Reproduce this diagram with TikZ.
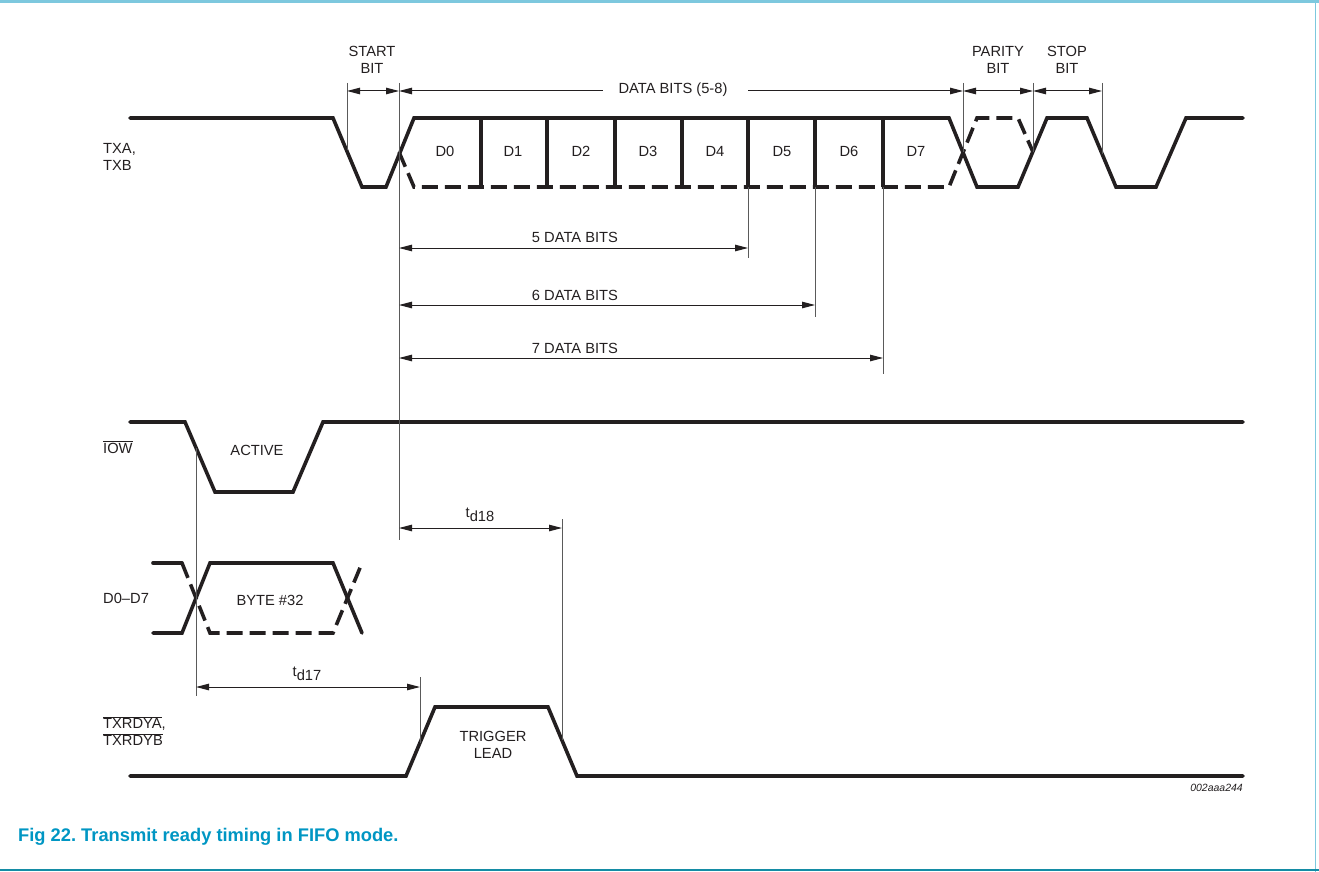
\documentclass[tikz,border=0pt]{standalone}
\usepackage{fontspec}
\setmainfont{Liberation Sans}
\usetikzlibrary{arrows.meta}
\definecolor{ink}{RGB}{35,31,32}
\definecolor{extgray}{RGB}{90,90,90}
\definecolor{capblue}{RGB}{0,150,195}
\definecolor{topblue}{RGB}{125,200,222}
\definecolor{botteal}{RGB}{20,140,165}
\begin{document}
\frenchspacing
\begin{tikzpicture}[x=1pt,y=-1pt,
  sig/.style={line width=3.6pt, draw=ink, line join=miter, line cap=round},
  sigd/.style={sig, line cap=butt, dash pattern=on 16pt off 7pt},
  ext/.style={line width=1pt, draw=extgray},
  dimarr/.style={line width=1pt, draw=ink, {Triangle[length=13pt,width=6.5pt]}-{Triangle[length=13pt,width=6.5pt]}},
  dimleft/.style={line width=1pt, draw=ink, {Triangle[length=13pt,width=6.5pt]}-},
  dimright/.style={line width=1pt, draw=ink, -{Triangle[length=13pt,width=6.5pt]}},
  lbl/.style={font=\fontsize{14.7}{17.5}\selectfont, text=ink, inner sep=0pt, align=center},
  sigl/.style={lbl, align=left, anchor=west},
]
\useasboundingbox (0,0) rectangle (1319,872);
% frame
\fill[topblue] (0,0) rectangle (1319,3);
\draw[topblue, line width=1pt] (1315.5,0) -- (1315.5,872);
\fill[botteal] (0,869) rectangle (1319,871);

% ---------- signal labels
\node[sigl] (lTX) at (103,157) {TXA,\\TXB};
\node[sigl] (lIOW) at (103,447) {$\overline{\hbox{IOW}}$};
\node[sigl] (lD) at (103,598) {D0--D7};
\node[sigl] (lRDY) at (103,731) {$\overline{\hbox{TXRDYA}}$,\\$\overline{\hbox{TXRDYB}}$};

% ---------- TXA / TXB waveform
\draw[sig] (130,118) -- (333,118) -- (362,187) -- (386,187) -- (414,118) -- (949,118)
  -- (977,187) -- (1018,187) -- (1047,118) -- (1087,118) -- (1116,187) -- (1156,187)
  -- (1186,118) -- (1243,118);
\draw[sigd] (399,152) -- (414,187) -- (949,187) -- (977,118) -- (1018,118) -- (1033,152);
\foreach \x in {481,547,615,682,748,815,883}
  \draw[sig, line cap=butt] (\x,118) -- (\x,187);
\foreach \t/\x in {D0/445,D1/513,D2/581,D3/648,D4/715,D5/782,D6/849,D7/916}
  \node[lbl, anchor=base] (bit\t) at (\x,157) {\t};

% ---------- IOW waveform
\draw[sig] (130,422) -- (185,422) -- (215,492) -- (293,492) -- (323,422) -- (1243,422);
\node[lbl] (active) at (257,450) {ACTIVE};

% ---------- D0-D7 waveform
\draw[sig] (153,563) -- (182,563);
\draw[sig] (153,633) -- (182,633) -- (210,563) -- (333,563) -- (362,633);
\draw[sigd] (182,563) -- (210,633) -- (333,633) -- (362,563);
\node[lbl] (byte) at (270,600) {BYTE \#32};

% ---------- TXRDY waveform
\draw[sig] (130,776) -- (406,776) -- (435,707) -- (548,707) -- (577,776) -- (1243,776);
\node[lbl] (trig) at (493,745) {TRIGGER\\LEAD};

% ---------- extension lines
\draw[ext] (347,83) -- (347,150);
\draw[ext] (399,83) -- (399,540);
\draw[ext] (963,83) -- (963,152);
\draw[ext] (1033,83) -- (1033,152);
\draw[ext] (1102,83) -- (1102,154);
\draw[ext] (748,187) -- (748,258);
\draw[ext] (815,187) -- (815,317);
\draw[ext] (883,187) -- (883,374);
\draw[ext] (196,448) -- (196,696);
\draw[ext] (420,677) -- (420,743);
\draw[ext] (562,519) -- (562,740);

% ---------- dimension arrows
\draw[dimarr] (347,91) -- (399,91);
\draw[dimleft] (399,91) -- (603,91);
\draw[dimright] (748,91) -- (963,91);
\draw[dimarr] (963,91) -- (1033,91);
\draw[dimarr] (1033,91) -- (1102,91);
\draw[dimarr] (399,248) -- (748,248);
\draw[dimarr] (399,305) -- (815,305);
\draw[dimarr] (399,358) -- (883,358);
\draw[dimarr] (399,528) -- (562,528);
\draw[dimarr] (196,687) -- (420,687);

% ---------- dimension labels
\node[lbl] (start) at (372,60) {START\\BIT};
\node[lbl] (parity) at (998,60) {PARITY\\BIT};
\node[lbl] (stop) at (1067,60) {STOP\\BIT};
\node[lbl] (dbits) at (673,90) {DATA BITS (5-8)};
\node[lbl] (d5) at (575,237) {5 DATA BITS};
\node[lbl] (d6) at (575,295) {6 DATA BITS};
\node[lbl] (d7) at (575,348) {7 DATA BITS};
\node[lbl] (td18) at (480,515) {t\raisebox{-0.45ex}{d18}};
\node[lbl] (td17) at (307,674) {t\raisebox{-0.45ex}{d17}};

% ---------- figure id and caption
\node[anchor=base east, inner sep=0pt, font=\itshape\fontsize{10.5}{12}\selectfont, text=ink] (figid) at (1243,791) {002aaa244};
\node[anchor=base west, inner sep=0pt, font=\bfseries\fontsize{18.3}{20}\selectfont, text=capblue] (caption) at (18,841) {Fig 22. Transmit ready timing in FIFO mode.};
\end{tikzpicture}
\end{document}
